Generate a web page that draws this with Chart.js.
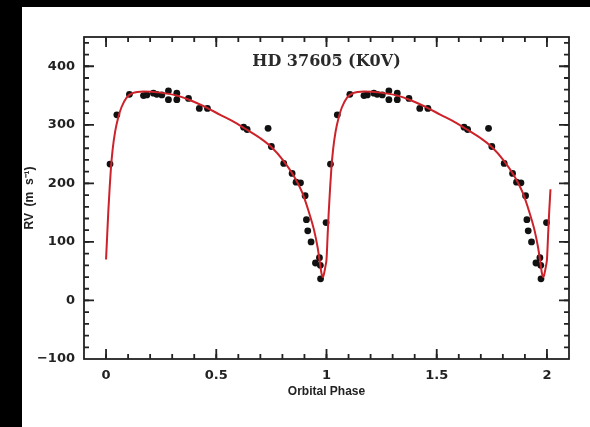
<!DOCTYPE html>
<html>
<head>
<meta charset="utf-8">
<script src="https://cdn.jsdelivr.net/npm/chart.js@4"></script>
<style>
  html, body { margin: 0; padding: 0; background: #000; width: 590px; height: 427px; overflow: hidden; }
  #wrap { position: absolute; left: 22px; top: 7px; width: 568px; height: 420px; background: #fff; }
  canvas { display: block; }
</style>
</head>
<body>
<div id="wrap"><canvas id="c"></canvas></div>
<script>
// ---- data (one orbital cycle; the figure repeats it over two cycles) ----
const obsPhase = [0.018, 0.049, 0.106, 0.170, 0.185, 0.215, 0.230, 0.253, 0.283, 0.283, 0.321, 0.321, 0.374, 0.423, 0.460,
                  0.624, 0.640, 0.735, 0.750, 0.806, 0.844, 0.862, 0.882, 0.903, 0.909, 0.915, 0.930, 0.950, 0.968, 0.972, 0.973, 0.998];
const obsRV    = [233, 317, 352, 350, 351, 354, 352, 351, 358, 343, 354, 343, 345, 328, 328,
                  296, 292, 294, 263, 234, 217, 202, 201, 179, 138, 119, 100, 64, 73, 60, 37, 133];

const fitPhase = [0.000, 0.005, 0.010, 0.016, 0.022, 0.030, 0.041, 0.055, 0.070, 0.094, 0.120, 0.170, 0.245, 0.320, 0.382,
                  0.458, 0.518, 0.570, 0.624, 0.700, 0.750, 0.806, 0.851, 0.890, 0.920, 0.943, 0.960, 0.970, 0.978, 0.984, 0.990, 0.996];
const fitRV    = [70, 110, 150, 190, 225, 258, 288, 312, 330, 347, 354, 357, 355, 350, 342,
                  329, 317, 307, 295, 277, 262, 238, 213, 184, 151, 121, 90, 65, 45, 40, 48, 60];
const cycles = [0, 1, 2];
const fitEnd = 2.016;

const xTickLabels = [0, 0.5, 1, 1.5, 2];
const yTickLabels = [-100, 0, 100, 200, 300, 400];
const titleText = 'HD 37605 (K0V)';
const xTitle = 'Orbital Phase';
const yTitle = 'RV  (m  s\u207B\u00B9)';

// ---- build datasets ----
const obsData = [];
cycles.slice(0, 2).forEach(c => obsPhase.forEach((p, i) => obsData.push({ x: p + c, y: obsRV[i] })));
const fitData = [];
cycles.forEach(c => fitPhase.forEach((p, i) => { if (p + c <= fitEnd) fitData.push({ x: p + c, y: fitRV[i] }); }));

// ---- inward ticks + frame ----
const frameTicks = {
  id: 'frameTicks',
  afterDraw(chart) {
    const { ctx, chartArea: a, scales: { x, y } } = chart;
    ctx.save();
    ctx.strokeStyle = '#222';
    ctx.lineWidth = 1.8;
    ctx.strokeRect(a.left, a.top, a.right - a.left, a.bottom - a.top);
    const drawX = (step, len) => {
      for (let i = Math.ceil(x.min / step - 1e-6); i <= Math.floor(x.max / step + 1e-6); i++) {
        const px = x.getPixelForValue(i * step);
        if (px <= a.left + 1 || px >= a.right - 1) continue;
        ctx.beginPath();
        ctx.moveTo(px, a.bottom); ctx.lineTo(px, a.bottom - len);
        ctx.moveTo(px, a.top); ctx.lineTo(px, a.top + len);
        ctx.stroke();
      }
    };
    const drawY = (step, len) => {
      for (let i = Math.ceil(y.min / step - 1e-6); i <= Math.floor(y.max / step + 1e-6); i++) {
        const py = y.getPixelForValue(i * step);
        if (py >= a.bottom - 1 || py <= a.top + 1) continue;
        ctx.beginPath();
        ctx.moveTo(a.left, py); ctx.lineTo(a.left + len, py);
        ctx.moveTo(a.right, py); ctx.lineTo(a.right - len, py);
        ctx.stroke();
      }
    };
    drawX(0.1, 5); drawX(0.5, 10);
    drawY(20, 5); drawY(100, 10);
    // title inside plot
    ctx.fillStyle = '#2a2a2a';
    ctx.font = 'bold 16px "DejaVu Serif"';
    ctx.textAlign = 'center';
    ctx.textBaseline = 'middle';
    ctx.fillText(titleText, (a.left + a.right) / 2, a.top + 25);
    ctx.restore();
  }
};

new Chart(document.getElementById('c'), {
  type: 'scatter',
  data: {
    datasets: [
      { label: 'fit', data: fitData, showLine: true, borderColor: '#cc2229', borderWidth: 2,
        pointRadius: 0, cubicInterpolationMode: 'monotone', order: 0 },
      { label: 'obs', data: obsData, backgroundColor: '#111', borderWidth: 0, pointRadius: 3.4, order: 1 }
    ]
  },
  options: {
    responsive: true,
    maintainAspectRatio: false,
    animation: false,
    layout: { padding: { left: 0, right: 21, top: 30, bottom: 0 } },
    plugins: { legend: { display: false }, tooltip: { enabled: false } },
    scales: {
      x: {
        type: 'linear', min: -0.1, max: 2.1,
        grid: { display: false, drawTicks: false },
        border: { display: false },
        afterBuildTicks: s => { s.ticks = xTickLabels.map(v => ({ value: v })); },
        afterFit: s => { s.height = 68; },
        ticks: { color: '#222', padding: 9, font: { family: 'DejaVu Sans', weight: 'bold', size: 13 },
                 callback: v => String(v) },
        title: { display: true, text: xTitle, color: '#222', padding: { top: 0, bottom: 28 },
                 font: { family: 'Liberation Sans', weight: 'bold', size: 12 } }
      },
      y: {
        type: 'linear', min: -100, max: 450,
        grid: { display: false, drawTicks: false },
        border: { display: false },
        afterBuildTicks: s => { s.ticks = yTickLabels.map(v => ({ value: v })); },
        afterFit: s => { s.width = 62; },
        ticks: { color: '#222', padding: 9, font: { family: 'DejaVu Sans', weight: 'bold', size: 13 },
                 callback: v => (v < 0 ? '\u2212' + Math.abs(v) : String(v)) },
        title: { display: true, text: yTitle, color: '#222', padding: 0,
                 font: { family: 'Liberation Sans', weight: 'bold', size: 12 } }
      }
    }
  },
  plugins: [frameTicks]
});
</script>
</body>
</html>
